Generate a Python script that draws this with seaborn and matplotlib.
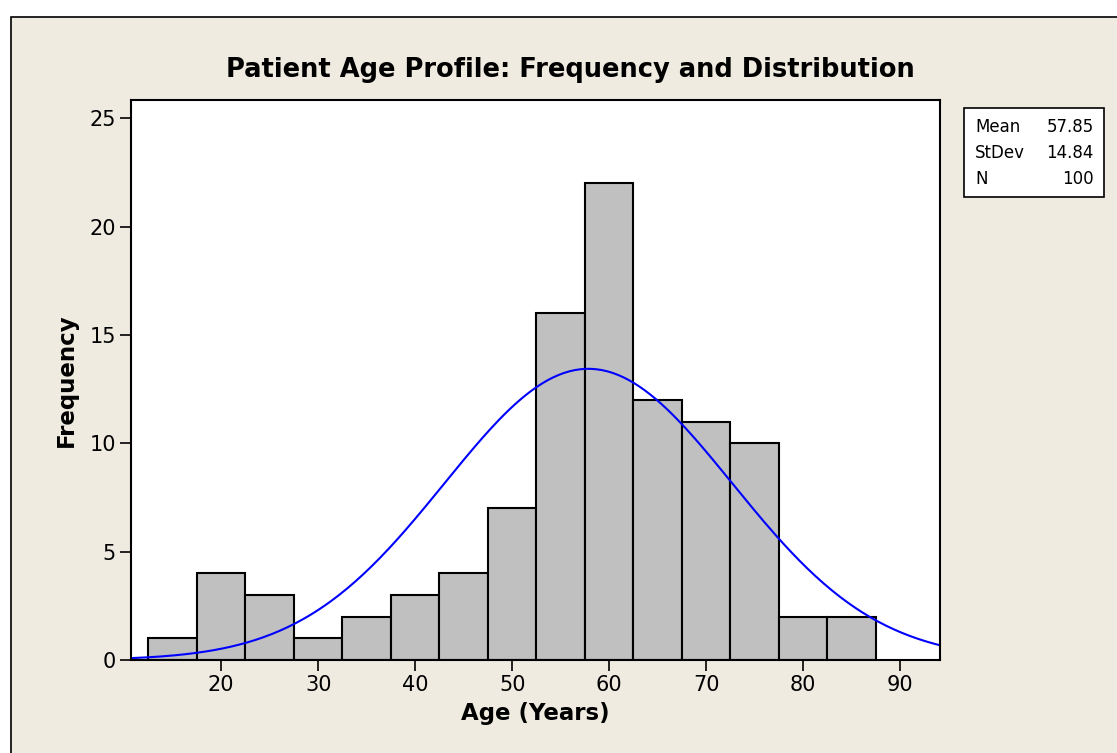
import numpy as np
import pandas as pd
import matplotlib
matplotlib.use('Agg')
import matplotlib.pyplot as plt
import seaborn as sns
from matplotlib.patches import Rectangle

# ── DATA ──────────────────────────────────────────────────────────────
bin_centers = [15, 20, 25, 30, 35, 40, 45, 50, 55, 60, 65, 70, 75, 80, 85]
counts      = [1, 4, 3, 1, 2, 3, 4, 7, 16, 22, 12, 11, 10, 2, 2]
BIN_WIDTH   = 5
MEAN        = 57.85
STDEV       = 14.84
N           = 100
x_ticks     = [20, 30, 40, 50, 60, 70, 80, 90]
y_ticks     = [0, 5, 10, 15, 20, 25]

BG = "#EFEBE1"

sns.set_style("white")
plt.rcParams['font.family'] = ['DejaVu Sans']
plt.rcParams.update({"text.color": "black", "axes.labelcolor": "black",
                     "xtick.color": "black", "ytick.color": "black"})

fig = plt.figure(figsize=(11.17, 7.53), dpi=100, facecolor="white")
# beige frame panel
fig.patches.append(Rectangle((11 / 1117, -0.05), 1.2, 1 - 17 / 753 + 0.05,
                             transform=fig.transFigure, facecolor=BG,
                             edgecolor="black", lw=1.2, zorder=-10))

ax = fig.add_axes([131 / 1117, 1 - 660 / 753, (940 - 131) / 1117, (660 - 100) / 753])
ax.set_facecolor("white")

df = pd.DataFrame({"age": bin_centers, "count": counts})
edges = [c - BIN_WIDTH / 2 for c in bin_centers] + [bin_centers[-1] + BIN_WIDTH / 2]
sns.histplot(data=df, x="age", weights="count", bins=edges, ax=ax,
             color="#C0C0C0", edgecolor="black", linewidth=1.5, alpha=1)

# fitted normal curve (from the stated mean / stdev)
xs = np.linspace(10.7, 94.1, 300)
fit = N * BIN_WIDTH * np.exp(-0.5 * ((xs - MEAN) / STDEV) ** 2) / (STDEV * np.sqrt(2 * np.pi))
sns.lineplot(x=xs, y=fit, ax=ax, color="#0000FF", lw=1.5)

ax.set_xlim(10.7, 94.1)
ax.set_ylim(0, 25.85)
ax.set_xticks(x_ticks)
ax.set_yticks(y_ticks)
ax.tick_params(axis="both", direction="out", length=8, width=1.2,
               labelsize=15, color="black", labelcolor="black", pad=3,
               left=True, bottom=True)
for s in ax.spines.values():
    s.set_color("black"); s.set_linewidth(1.5)

ax.set_xlabel("Age (Years)", fontsize=16.5, fontweight="bold", labelpad=5)
ax.set_ylabel("Frequency", fontsize=16.5, fontweight="bold", labelpad=8)
fig.text(570 / 1117, 1 - 70 / 753, "Patient Age Profile: Frequency and Distribution",
         ha="center", va="center", fontsize=18.5, fontweight="bold")

# stats box
bx0, by0, bx1, by1 = 964, 108, 1104, 197
fig.patches.append(Rectangle((bx0 / 1117, 1 - by1 / 753), (bx1 - bx0) / 1117, (by1 - by0) / 753,
                             transform=fig.transFigure, facecolor="white",
                             edgecolor="black", lw=1.2))
stats = [("Mean", f"{MEAN:.2f}"), ("StDev", f"{STDEV:.2f}"), ("N", f"{N}")]
for i, (k, v) in enumerate(stats):
    yy = 1 - (127 + i * 26) / 753
    fig.text(975 / 1117, yy, k, ha="left", va="center", fontsize=12)
    fig.text(1094 / 1117, yy, v, ha="right", va="center", fontsize=12)

plt.savefig("out.png", dpi=100, facecolor=fig.get_facecolor())
